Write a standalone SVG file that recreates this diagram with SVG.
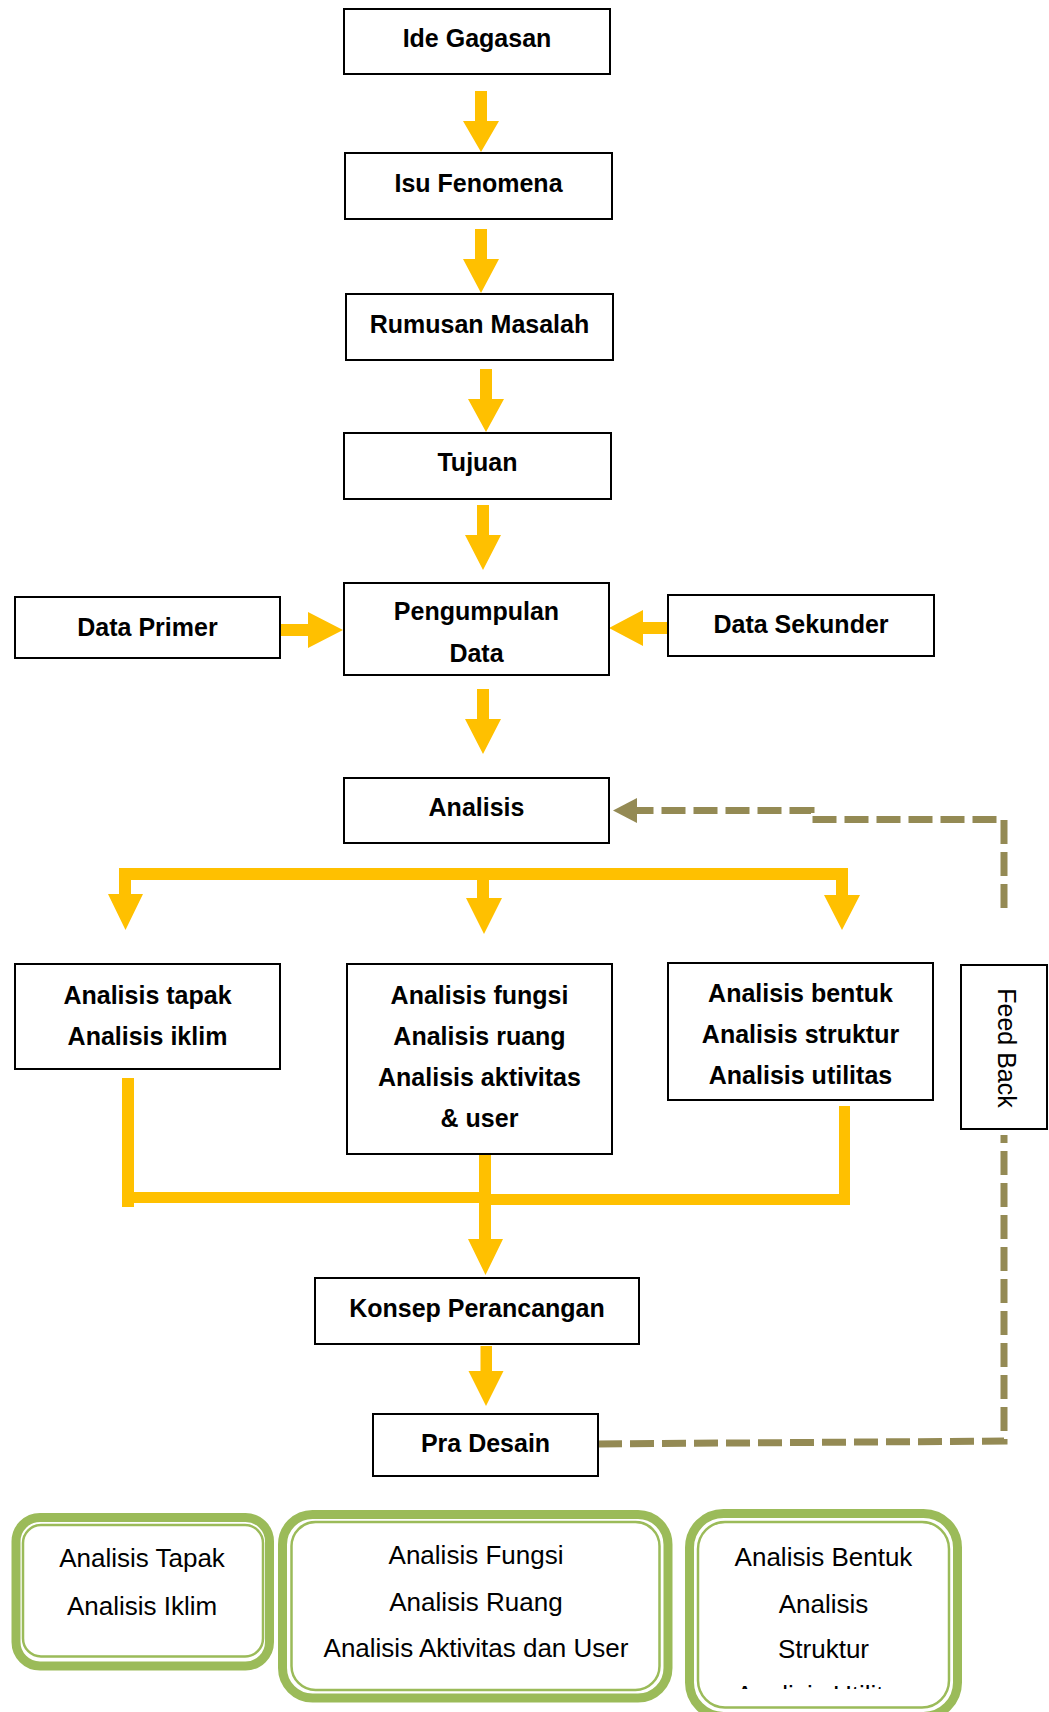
<svg xmlns="http://www.w3.org/2000/svg" width="1049" height="1712" viewBox="0 0 1049 1712">
<style>
.box{fill:#fff;stroke:#000;stroke-width:2}
.t{font-family:"Liberation Sans",Arial,sans-serif;font-weight:bold;font-size:25px;fill:#000;text-anchor:middle}
.tr{font-family:"Liberation Sans",Arial,sans-serif;font-size:25px;fill:#000;text-anchor:middle}
.g{font-family:"Liberation Sans",Arial,sans-serif;font-size:26px;fill:#000;text-anchor:middle}
.y{fill:#FFC000}
.fb{fill:none;stroke:#948A54;stroke-width:7;stroke-dasharray:24 8}
.go{fill:#fff;stroke:#9BBB59;stroke-width:9}
.gi{fill:none;stroke:#9BBB59;stroke-width:2.5}
</style>
<defs>
<clipPath id="clip4"><rect x="680" y="1600" width="290" height="89"/></clipPath>
</defs>
<rect width="1049" height="1712" fill="#fff"/>

<g id="connectors">
  <polygon class="y" points="475,91 487,91 487,121 499,121 481,152 463,121 475,121"/>
  <polygon class="y" points="475,229 487,229 487,259 499,259 481,293 463,259 475,259"/>
  <polygon class="y" points="480,369 492,369 492,399 504,399 486,432 468,399 480,399"/>
  <polygon class="y" points="477,505 489,505 489,535 501,535 483,570 465,535 477,535"/>
  <polygon class="y" points="477,689 489,689 489,719 501,719 483,754 465,719 477,719"/>
  <polygon class="y" points="280,624 308,624 308,612 343,630 308,648 308,636 280,636"/>
  <polygon class="y" points="668,622 643,622 643,610 609,628 643,646 643,634 668,634"/>
  <rect class="y" x="119" y="868" width="729" height="12"/>
  <polygon class="y" points="477,880 489,880 489,898 502,898 484,934 466,898 477,898"/>
  <polygon class="y" points="119,880 131,880 131,894 143,894 125.5,930 108,894 119,894"/>
  <polygon class="y" points="836,880 848,880 848,895 860,895 842,930 824,895 836,895"/>
  <rect class="y" x="122" y="1078" width="12" height="129"/>
  <rect class="y" x="122" y="1192" width="363" height="11"/>
  <rect class="y" x="485" y="1194" width="365" height="11"/>
  <rect class="y" x="839" y="1106" width="11" height="99"/>
  <polygon class="y" points="479,1154 491,1154 491,1239 503,1239 485.5,1275 468,1239 479,1239"/>
  <polygon class="y" points="480.5,1346 492,1346 492,1371 503.5,1371 486,1406 468.5,1371 480.5,1371"/>
  <path class="fb" d="M1004,908 L1004,819.5 L811,819.5 L811,810.5 L636,810.5"/>
  <polygon fill="#948A54" points="613,810.5 637,798 637,823"/>
  <path class="fb" d="M598,1444 L1004,1441 L1004,1135"/>
</g>

<g id="ide-gagasan"><rect class="box" x="344" y="9" width="266" height="65"/><text class="t" x="477" y="47">Ide Gagasan</text></g>
<g id="isu-fenomena"><rect class="box" x="345" y="153" width="267" height="66"/><text class="t" x="478.5" y="192">Isu Fenomena</text></g>
<g id="rumusan-masalah"><rect class="box" x="346" y="294" width="267" height="66"/><text class="t" x="479.5" y="333">Rumusan Masalah</text></g>
<g id="tujuan"><rect class="box" x="344" y="433" width="267" height="66"/><text class="t" x="477.5" y="471">Tujuan</text></g>
<g id="pengumpulan-data"><rect class="box" x="344" y="583" width="265" height="92"/><text class="t" x="476.5" y="620">Pengumpulan</text><text class="t" x="476.5" y="662">Data</text></g>
<g id="data-primer"><rect class="box" x="15" y="597" width="265" height="61"/><text class="t" x="147.5" y="636">Data Primer</text></g>
<g id="data-sekunder"><rect class="box" x="668" y="595" width="266" height="61"/><text class="t" x="801" y="633">Data Sekunder</text></g>
<g id="analisis"><rect class="box" x="344" y="778" width="265" height="65"/><text class="t" x="476.5" y="816">Analisis</text></g>
<g id="analisis-tapak"><rect class="box" x="15" y="964" width="265" height="105"/><text class="t" x="147.5" y="1004">Analisis tapak</text><text class="t" x="147.5" y="1045">Analisis iklim</text></g>
<g id="analisis-fungsi"><rect class="box" x="347" y="964" width="265" height="190"/><text class="t" x="479.5" y="1004">Analisis fungsi</text><text class="t" x="479.5" y="1045">Analisis ruang</text><text class="t" x="479.5" y="1086">Analisis aktivitas</text><text class="t" x="479.5" y="1127">&amp; user</text></g>
<g id="analisis-bentuk"><rect class="box" x="668" y="963" width="265" height="137"/><text class="t" x="800.5" y="1002">Analisis bentuk</text><text class="t" x="800.5" y="1043">Analisis struktur</text><text class="t" x="800.5" y="1084">Analisis utilitas</text></g>
<g id="feed-back"><rect class="box" x="961" y="965" width="86" height="164" stroke-width="1.5"/><text class="tr" transform="translate(998,1048) rotate(90)" x="0" y="0">Feed Back</text></g>
<g id="konsep-perancangan"><rect class="box" x="315" y="1278" width="324" height="66"/><text class="t" x="477" y="1317">Konsep Perancangan</text></g>
<g id="pra-desain"><rect class="box" x="373" y="1414" width="225" height="62" stroke-width="1.5"/><text class="t" x="485.5" y="1452">Pra Desain</text></g>

<g id="legend-tapak"><rect class="go" x="16" y="1517.5" width="253.5" height="148.5" rx="24" stroke-width="8"/><rect class="gi" x="23" y="1525" width="240" height="131.5" rx="18"/><text class="g" x="142" y="1567">Analisis Tapak</text><text class="g" x="142" y="1615">Analisis Iklim</text></g>
<g id="legend-fungsi"><rect class="go" x="282.5" y="1514.5" width="385.5" height="183.5" rx="30"/><rect class="gi" x="291.5" y="1522" width="368" height="168" rx="24"/><text class="g" x="476" y="1564">Analisis Fungsi</text><text class="g" x="476" y="1611">Analisis Ruang</text><text class="g" x="476" y="1657">Analisis Aktivitas dan User</text></g>
<g id="legend-bentuk"><rect class="go" x="689.5" y="1513.5" width="268" height="203" rx="34"/><rect class="gi" x="698" y="1522" width="251" height="185.5" rx="27"/><text class="g" x="823.5" y="1566">Analisis Bentuk</text><text class="g" x="823.5" y="1613">Analisis</text><text class="g" x="823.5" y="1658">Struktur</text><text class="g" x="823.5" y="1704" clip-path="url(#clip4)">Analisis Utilitas</text></g>
</svg>
